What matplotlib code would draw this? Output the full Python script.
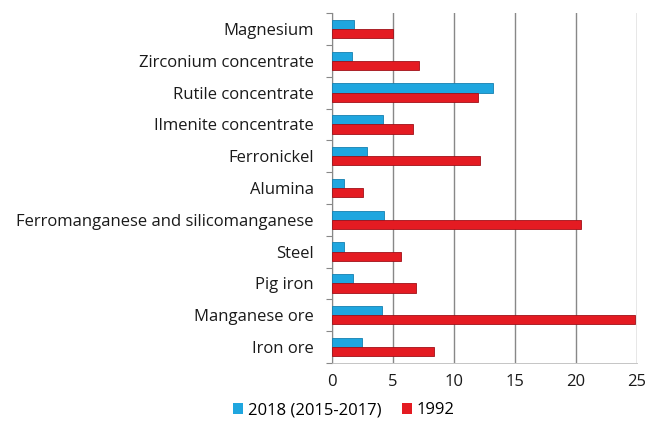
import numpy as np
import matplotlib.pyplot as plt
from matplotlib.patches import Patch

# categories listed bottom to top
categories = ['Iron ore', 'Manganese ore', 'Pig iron', 'Steel',
              'Ferromanganese and silicomanganese', 'Alumina', 'Ferronickel',
              'Ilmenite concentrate', 'Rutile concentrate',
              'Zirconium concentrate', 'Magnesium']
val_2018 = [2.45, 4.1, 1.75, 1.05, 4.3, 1.05, 2.9, 4.2, 13.25, 1.65, 1.85]
val_1992 = [8.4, 24.85, 6.9, 5.7, 20.45, 2.55, 12.2, 6.65, 12.0, 7.2, 5.0]
xticks = [0, 5, 10, 15, 20, 25]

blue = '#1fa6df'
red = '#e41b22'

plt.rcParams['font.family'] = ['Open Sans', 'DejaVu Sans']

fig = plt.figure(figsize=(6.49, 4.25), dpi=100)
ax = fig.add_axes([0.511, 0.146, 0.470, 0.823])

y = np.arange(len(categories))
h = 0.29
ax.barh(y + h / 2, val_2018, height=h, color=blue, edgecolor='#1580b0',
        linewidth=0.6, label='2018 (2015-2017)', zorder=3)
ax.barh(y - h / 2, val_1992, height=h, color=red, edgecolor='#a01018',
        linewidth=0.6, label='1992', zorder=3)

ax.set_xlim(0, 25)
ax.set_ylim(-0.5, len(categories) - 0.5)
ax.set_xticks(xticks)
ax.set_xticklabels([str(t) for t in xticks], fontsize=12, color='#1a1a1a')
ax.set_yticks(y)
ax.set_yticklabels(categories, fontsize=12, color='#1a1a1a')
ax.tick_params(axis='y', length=0, pad=13)
ax.tick_params(axis='x', length=0, pad=8)
ax.set_yticks(np.arange(-0.5, len(categories), 1), minor=True)
ax.tick_params(axis='y', which='minor', length=4, color='#888888', width=0.8)

ax.grid(axis='x', color='#888888', linewidth=1.0, zorder=0)
for s in ['top', 'right']:
    ax.spines[s].set_visible(False)
ax.spines['left'].set_color('#888888')
ax.spines['bottom'].set_color('#bbbbbb')
ax.spines['bottom'].set_linewidth(0.6)

handles = [Patch(facecolor=blue, label='2018 (2015-2017)'),
           Patch(facecolor=red, label='1992')]
fig.legend(handles=handles, loc='center', bbox_to_anchor=(0.53, 0.035),
           ncol=2, frameon=False, fontsize=12, handlelength=0.6,
           handleheight=0.6, handletextpad=0.3, columnspacing=1.2)

fig.savefig('out.png', dpi=100)
